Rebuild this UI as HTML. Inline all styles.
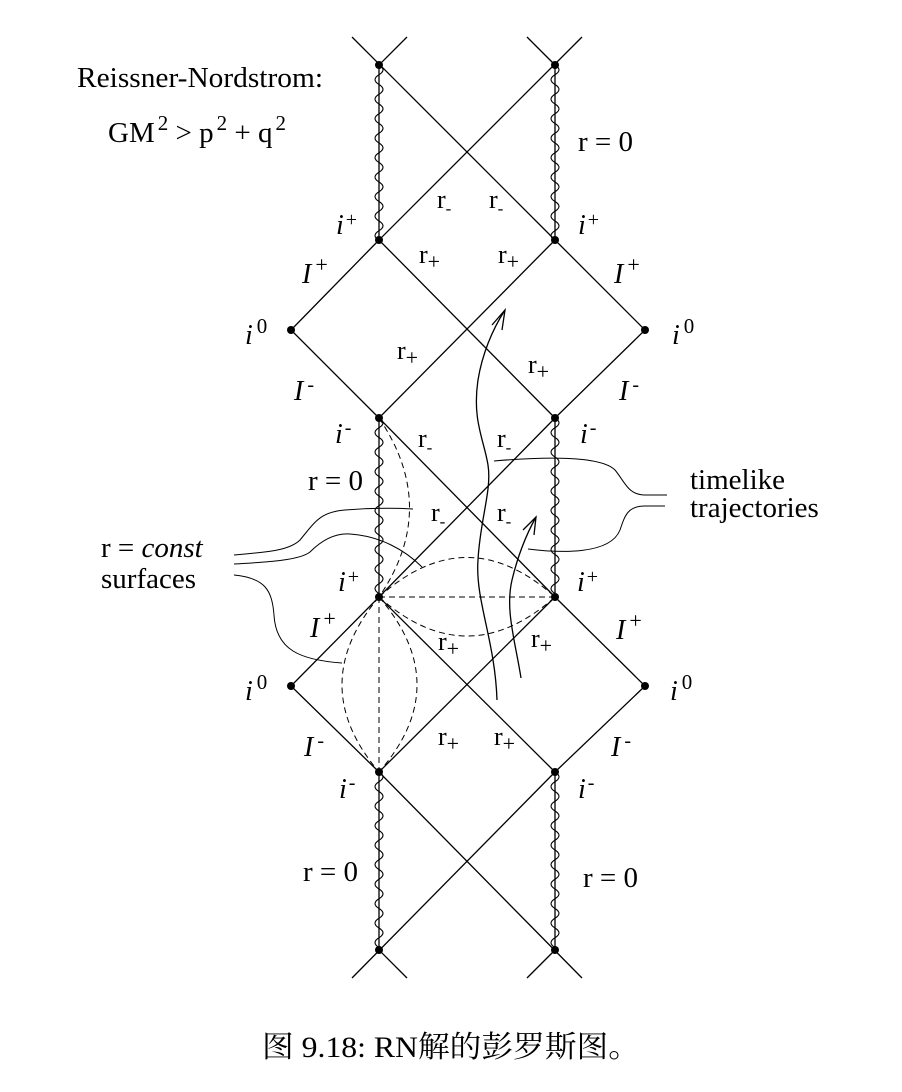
<!DOCTYPE html>
<html><head><meta charset="utf-8"><style>
html,body{margin:0;padding:0;background:#fff;}
svg{display:block;}
text{font-family:"Liberation Serif","Noto Serif CJK SC",serif;fill:#000;}
.it{font-style:italic;}
</style></head><body>
<svg width="902" height="1092" viewBox="0 0 902 1092" xmlns="http://www.w3.org/2000/svg">
<defs>
<path id="wave" d="M0,0 q8,4.9 0,9.75 q-8,4.9 0,9.75 q8,4.9 0,9.75 q-8,4.9 0,9.75 q8,4.9 0,9.75 q-8,4.9 0,9.75 q8,4.9 0,9.75 q-8,4.9 0,9.75 q8,4.9 0,9.75 q-8,4.9 0,9.75 q8,4.9 0,9.75 q-8,4.9 0,9.75 q8,4.9 0,9.75 q-8,4.9 0,9.75 q8,4.9 0,9.75 q-8,4.9 0,9.75 q8,4.9 0,9.75 q-8,4.9 0,9.75" fill="none" stroke="#000" stroke-width="1.1"/>
</defs>
<g stroke="#000" stroke-width="1.3" fill="none">
<line x1="352" y1="37" x2="555" y2="240"/>
<line x1="582" y1="37" x2="379" y2="240"/>
<line x1="379" y1="65" x2="407" y2="37"/>
<line x1="555" y1="65" x2="527" y2="37"/>
<polyline points="379,240 291,330 379,418"/>
<line x1="379" y1="240" x2="555" y2="418"/>
<line x1="555" y1="240" x2="379" y2="418"/>
<polyline points="555,240 645,330 555,418"/>
<line x1="379" y1="418" x2="555" y2="597"/>
<line x1="555" y1="418" x2="379" y2="597"/>
<polyline points="379,597 291,686 379,772"/>
<line x1="379" y1="597" x2="555" y2="772"/>
<line x1="555" y1="597" x2="379" y2="772"/>
<polyline points="555,597 645,686 555,772"/>
<line x1="379" y1="772" x2="582" y2="978"/>
<line x1="555" y1="772" x2="352" y2="978"/>
<line x1="379" y1="950" x2="407" y2="978"/>
<line x1="555" y1="950" x2="527" y2="978"/>
<line x1="379" y1="65" x2="379" y2="240"/>
<line x1="555" y1="65" x2="555" y2="240"/>
<line x1="379" y1="418" x2="379" y2="597"/>
<line x1="555" y1="418" x2="555" y2="597"/>
<line x1="379" y1="772" x2="379" y2="950"/>
<line x1="555" y1="772" x2="555" y2="950"/>
</g>
<use href="#wave" x="379" y="65"/>
<use href="#wave" x="555" y="65"/>
<use href="#wave" x="379" y="418"/>
<use href="#wave" x="555" y="418"/>
<use href="#wave" x="379" y="772"/>
<use href="#wave" x="555" y="772"/>
<g stroke="#000" stroke-width="1" fill="none" stroke-dasharray="6,4">
<path d="M379,418 Q440,508 379,597"/>
<line x1="379" y1="597" x2="555" y2="597"/>
<path d="M379,597 Q467,518 555,597"/>
<path d="M379,597 Q467,675 555,597"/>
<line x1="379" y1="597" x2="379" y2="772"/>
<path d="M379,597 Q305,685 379,772"/>
<path d="M379,597 Q455,685 379,772"/>
</g>
<g stroke="#000" stroke-width="1.3" fill="none">
<path d="M497,700 C495,640 475,600 478,560 C480,520 492,490 488,465 C484,440 472,420 478,380 C482,355 492,330 505,310"/>
<polyline points="492,325 505,310 502,330"/>
<path d="M521,678 C515,640 505,610 512,580 C518,555 526,535 536,517"/>
<polyline points="523,530 536,517 534,535"/>
</g>
<g stroke="#000" stroke-width="1" fill="none">
<path d="M494,461 C540,457 600,455 615,470 C625,482 628,495 645,495 L667,495"/>
<path d="M528,549 C560,553 610,555 620,530 C625,515 628,506 645,506 L665,506"/>
<path d="M234,555 C270,552 290,550 300,540 C315,522 320,512 345,510 C370,508 395,508 413,509"/>
<path d="M234,564 C270,562 300,560 310,552 C322,540 335,533 350,534 C380,536 405,550 422,567"/>
<path d="M234,575 C265,578 272,590 274,615 C276,650 300,660 342,663"/>
</g>
<g fill="#000">
<circle cx="379" cy="65" r="4"/><circle cx="555" cy="65" r="4"/>
<circle cx="379" cy="240" r="4"/><circle cx="555" cy="240" r="4"/>
<circle cx="291" cy="330" r="4"/><circle cx="645" cy="330" r="4"/>
<circle cx="379" cy="418" r="4"/><circle cx="555" cy="418" r="4"/>
<circle cx="379" cy="597" r="4"/><circle cx="555" cy="597" r="4"/>
<circle cx="291" cy="686" r="4"/><circle cx="645" cy="686" r="4"/>
<circle cx="379" cy="772" r="4"/><circle cx="555" cy="772" r="4"/>
<circle cx="379" cy="950" r="4"/><circle cx="555" cy="950" r="4"/>
</g>
<g font-size="29">
<text x="77" y="87" textLength="246" lengthAdjust="spacingAndGlyphs">Reissner-Nordstrom:</text>
<text x="108" y="142">GM<tspan font-size="21" dy="-12" dx="3">2</tspan><tspan dy="12"> &gt; p</tspan><tspan font-size="21" dy="-12" dx="3">2</tspan><tspan dy="12"> + q</tspan><tspan font-size="21" dy="-12" dx="3">2</tspan></text>
<text x="578" y="151">r = 0</text>
<text x="308" y="490">r = 0</text>
<text x="303" y="881">r = 0</text>
<text x="583" y="887">r = 0</text>
<text x="690" y="489">timelike</text>
<text x="690" y="517">trajectories</text>
<text x="101" y="557">r = <tspan class="it">const</tspan></text>
<text x="101" y="588">surfaces</text>
</g>
<g font-size="26">
<text x="437" y="208">r<tspan font-size="17" dy="6">-</tspan></text>
<text x="489" y="208">r<tspan font-size="17" dy="6">-</tspan></text>
<text x="419" y="263">r<tspan font-size="22" dy="6">+</tspan></text>
<text x="498" y="263">r<tspan font-size="22" dy="6">+</tspan></text>
<text x="397" y="359">r<tspan font-size="22" dy="6">+</tspan></text>
<text x="528" y="373">r<tspan font-size="22" dy="6">+</tspan></text>
<text x="418" y="447">r<tspan font-size="17" dy="6">-</tspan></text>
<text x="497" y="447">r<tspan font-size="17" dy="6">-</tspan></text>
<text x="431" y="521">r<tspan font-size="17" dy="6">-</tspan></text>
<text x="497" y="521">r<tspan font-size="17" dy="6">-</tspan></text>
<text x="438" y="650">r<tspan font-size="22" dy="6">+</tspan></text>
<text x="531" y="647">r<tspan font-size="22" dy="6">+</tspan></text>
<text x="438" y="745">r<tspan font-size="22" dy="6">+</tspan></text>
<text x="494" y="745">r<tspan font-size="22" dy="6">+</tspan></text>
</g>
<g font-size="28">
<text x="336" y="234" class="it">i<tspan font-size="20" dy="-8" dx="2" font-style="normal">+</tspan></text>
<text x="578" y="234" class="it">i<tspan font-size="20" dy="-8" dx="2" font-style="normal">+</tspan></text>
<text x="302" y="283" class="it">I<tspan font-size="22" dy="-11" dx="4" font-style="normal">+</tspan></text>
<text x="614" y="283" class="it">I<tspan font-size="22" dy="-11" dx="4" font-style="normal">+</tspan></text>
<text x="245" y="344" class="it">i<tspan font-size="21" dy="-11" dx="4" font-style="normal">0</tspan></text>
<text x="672" y="344" class="it">i<tspan font-size="21" dy="-11" dx="4" font-style="normal">0</tspan></text>
<text x="294" y="400" class="it">I<tspan font-size="20" dy="-9" dx="4" font-style="normal">-</tspan></text>
<text x="619" y="400" class="it">I<tspan font-size="20" dy="-9" dx="4" font-style="normal">-</tspan></text>
<text x="335" y="443" class="it">i<tspan font-size="20" dy="-9" dx="2" font-style="normal">-</tspan></text>
<text x="580" y="443" class="it">i<tspan font-size="20" dy="-9" dx="2" font-style="normal">-</tspan></text>
<text x="338" y="591" class="it">i<tspan font-size="20" dy="-8" dx="2" font-style="normal">+</tspan></text>
<text x="577" y="591" class="it">i<tspan font-size="20" dy="-8" dx="2" font-style="normal">+</tspan></text>
<text x="310" y="637" class="it">I<tspan font-size="22" dy="-11" dx="4" font-style="normal">+</tspan></text>
<text x="616" y="639" class="it">I<tspan font-size="22" dy="-11" dx="4" font-style="normal">+</tspan></text>
<text x="245" y="700" class="it">i<tspan font-size="21" dy="-11" dx="4" font-style="normal">0</tspan></text>
<text x="670" y="700" class="it">i<tspan font-size="21" dy="-11" dx="4" font-style="normal">0</tspan></text>
<text x="304" y="756" class="it">I<tspan font-size="20" dy="-9" dx="4" font-style="normal">-</tspan></text>
<text x="611" y="756" class="it">I<tspan font-size="20" dy="-9" dx="4" font-style="normal">-</tspan></text>
<text x="339" y="798" class="it">i<tspan font-size="20" dy="-9" dx="2" font-style="normal">-</tspan></text>
<text x="578" y="798" class="it">i<tspan font-size="20" dy="-9" dx="2" font-style="normal">-</tspan></text>
</g>
<text x="451" y="1057" font-size="30" text-anchor="middle" textLength="378" lengthAdjust="spacingAndGlyphs">图 9.18: RN解的彭罗斯图。</text>
</svg>
</body></html>
